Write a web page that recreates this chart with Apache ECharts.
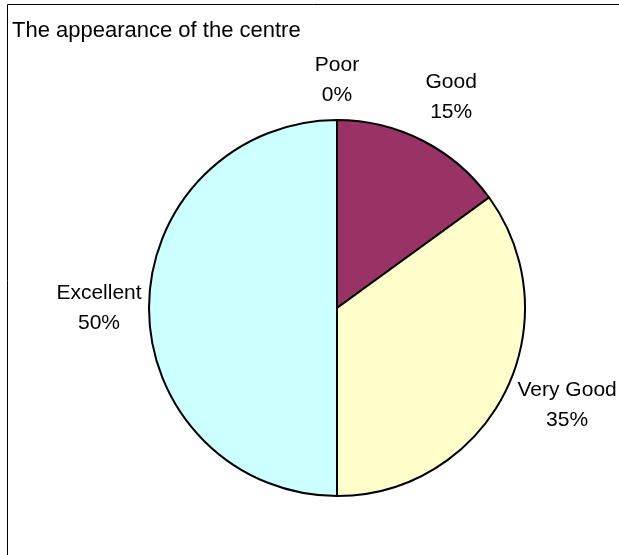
<!DOCTYPE html>
<html>
<head>
<meta charset="utf-8">
<script src="https://cdn.jsdelivr.net/npm/echarts@6/dist/echarts.min.js"></script>
<style>
  html, body { margin: 0; padding: 0; background: #fff; }
  #chart { width: 619px; height: 555px; }
</style>
</head>
<body>
<div id="chart"></div>
<script>
// Survey answers for "The appearance of the centre"
const categories = ['Poor', 'Good', 'Very Good', 'Excellent'];
const shares = [0, 15, 35, 50];
const sliceColors = ['#9999FF', '#993366', '#FFFFCC', '#CCFFFF'];

// Layout of the pie and of its outside labels
const pieCenter = [337, 308];
const pieRadius = 188;
const labelDistance = [228, 240, 250, 238];
const labelAngleShift = [0, 1.4, -4, 0]; // degrees, nudges labels off the slice bisector

const FONT = '"Liberation Sans", Arial, sans-serif';
const total = shares.reduce((a, b) => a + b, 0);

// Mid-angle of each slice, measured clockwise from 12 o'clock
const midAngles = [];
let cum = 0;
shares.forEach(v => {
  midAngles.push(((cum + v / 2) / total) * Math.PI * 2);
  cum += v;
});

const chart = echarts.init(document.getElementById('chart'), null, { renderer: 'canvas' });

chart.setOption({
  animation: false,
  backgroundColor: '#ffffff',
  title: {
    text: 'The appearance of the centre',
    left: 12,
    top: 20,
    padding: 0,
    textStyle: { fontFamily: FONT, fontSize: 22, fontWeight: 'normal', color: '#000' }
  },
  graphic: [{
    type: 'rect',
    shape: { x: 7.5, y: 4.5, width: 800, height: 800 },
    style: { fill: 'none', stroke: '#000', lineWidth: 1 },
    silent: true
  }],
  series: [{
    type: 'pie',
    center: pieCenter,
    radius: pieRadius,
    startAngle: 90,
    clockwise: true,
    silent: true,
    data: categories.map((name, i) => ({
      name: name,
      value: shares[i],
      itemStyle: { color: sliceColors[i] }
    })),
    itemStyle: { borderColor: '#000', borderWidth: 2 },
    label: {
      show: true,
      position: 'outside',
      fontFamily: FONT,
      fontSize: 21,
      lineHeight: 30,
      color: '#000',
      overflow: 'none',
      formatter: p => p.name + '\n' + p.value + '%'
    },
    labelLine: { show: false },
    labelLayout: function (params) {
      const i = params.dataIndex;
      const a = midAngles[i] + labelAngleShift[i] * Math.PI / 180;
      const d = labelDistance[i];
      return {
        x: pieCenter[0] + d * Math.sin(a),
        y: pieCenter[1] - d * Math.cos(a),
        align: 'center',
        verticalAlign: 'middle'
      };
    },
    emphasis: { disabled: true }
  }]
});
</script>
</body>
</html>
